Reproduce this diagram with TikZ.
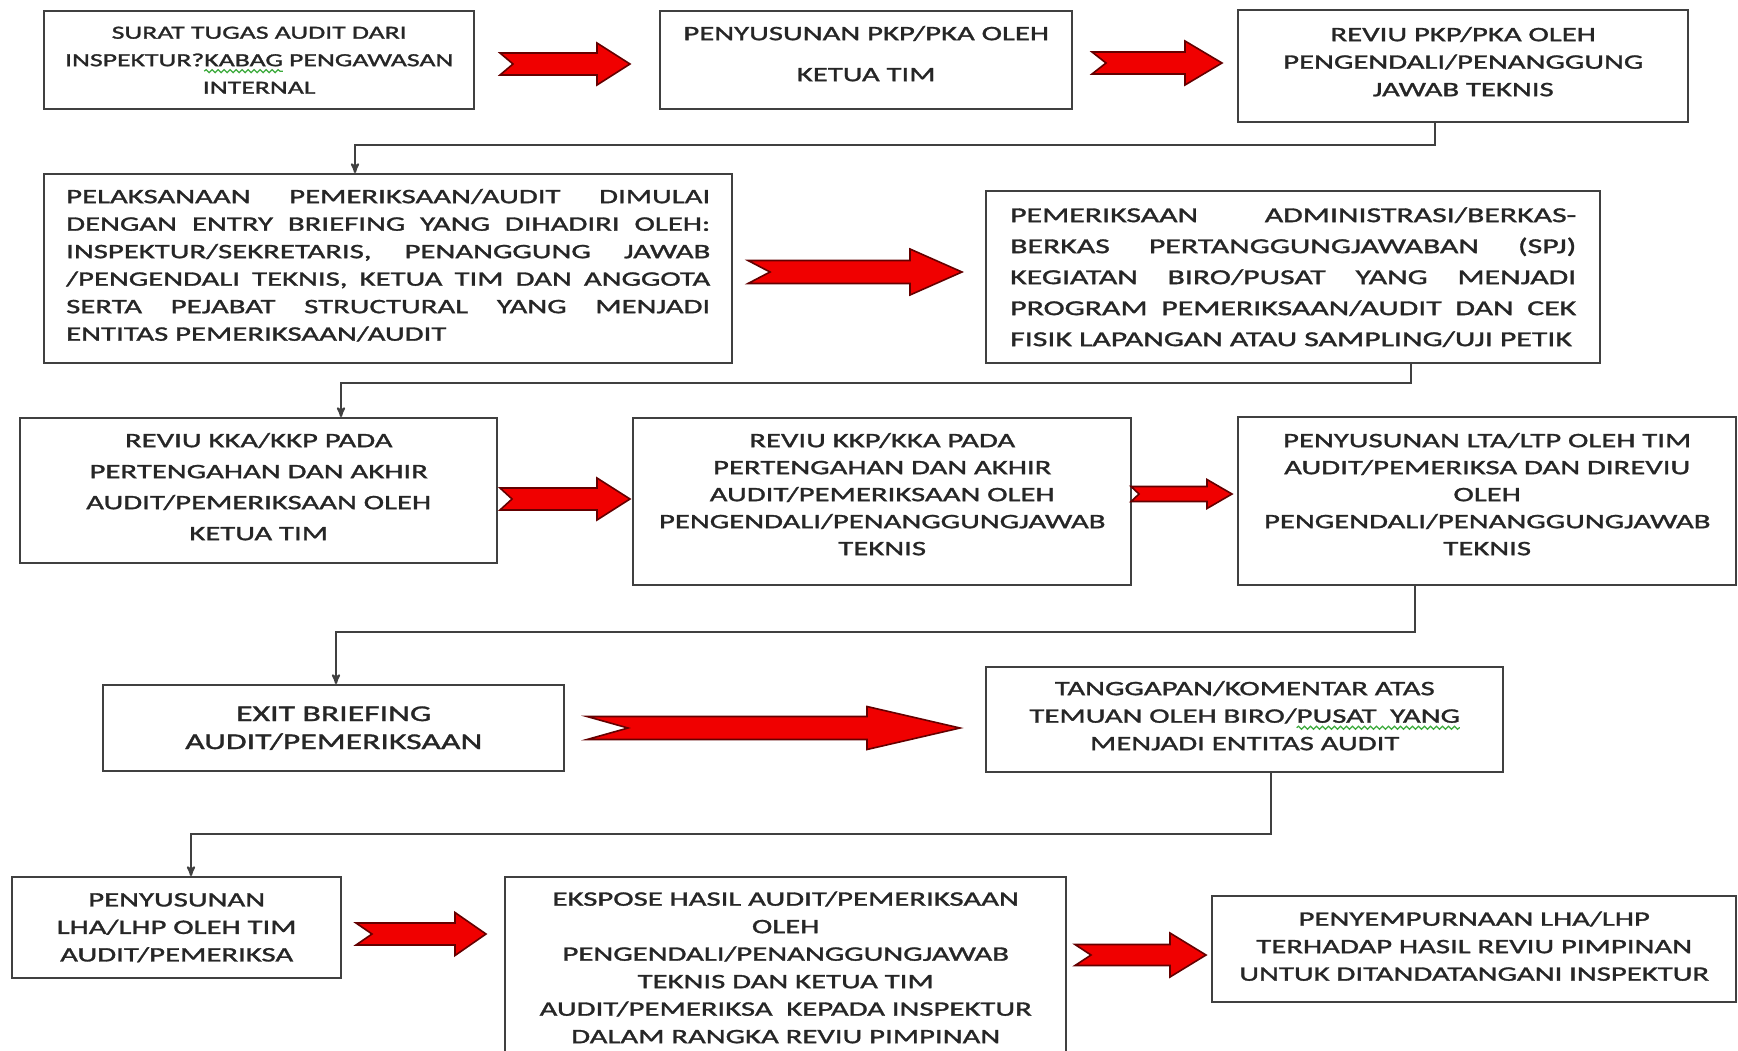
\documentclass[tikz,border=0pt]{standalone}
\usepackage{fontspec}
\setmainfont{Carlito}[FakeStretch=1.5, FakeBold=1.5]
\usepackage{tikz}
\usetikzlibrary{arrows, positioning, calc, decorations.pathmorphing}
\colorlet{colorBox}{black!75}
\colorlet{colorText}{black!85}
\definecolor{colorBlock}{RGB}{240,0,0}
\definecolor{colorBlockEdge}{RGB}{100,0,0}
\definecolor{colorSpell}{RGB}{60,170,60}
\newsavebox{\wavebox}
\newcommand{\spellwave}[1]{\sbox{\wavebox}{#1}\rlap{\usebox{\wavebox}}\tikz[baseline=0pt]{\path[use as bounding box] (0pt,0pt) rectangle (\wd\wavebox,0pt); \draw[colorSpell, line width=1.2pt, decorate, decoration={snake, amplitude=1.5pt, segment length=6pt}] (0pt,-5pt) -- (\wd\wavebox,-5pt);}}
\newcommand{\jline}[2]{{\spaceskip=0pt\xspaceskip=0pt\makebox[#1][s]{#2}}}
\newcommand{\boxfont}[2]{\fontsize{#1}{#2}\selectfont}
% tail, tip, shaft half, head half, head length, notch
\newcommand{\redarrow}[6]{\filldraw[blockarrow] ($(#1)+(0,-#3)$) -- ($(#2)+(-#5,-#3)$) -- ($(#2)+(-#5,-#4)$) -- (#2) -- ($(#2)+(-#5,#4)$) -- ($(#2)+(-#5,#3)$) -- ($(#1)+(0,#3)$) -- ($(#1)+(#6,0)$) -- cycle;}
\tikzset{
  box/.style={draw=colorBox, line width=2.4pt, anchor=north west, inner xsep=0pt, inner ysep=0pt, align=center, text=colorText, font=\boxfont{20.5}{27.5}},
  blockarrow/.style={fill=colorBlock, draw=colorBlockEdge, line width=1.6pt},
  link/.style={draw=colorBox, line width=2.2pt, ->}
}

\begin{document}
\begin{tikzpicture}[>=stealth', x=1pt, y=-1pt]
\clip (0,0) rectangle (1738,1050);
\fill[white] (0,0) rectangle (1738,1050);
% row 1
\node[box, text width=430pt, minimum height=98pt, font=\boxfont{18.5}{27.5}] (s1) at (43,10) {SURAT TUGAS AUDIT DARI\\INSPEKTUR?\spellwave{KABAG} PENGAWASAN\\INTERNAL};
\node[box, text width=412pt, minimum height=98pt, text height=29pt, text depth=69pt] (s2) at (659,10) {PENYUSUNAN PKP/PKA OLEH\\[13.5pt]KETUA TIM};
\node[box, text width=450pt, minimum height=112pt, text height=31pt, text depth=81pt] (s3) at (1237,9) {REVIU PKP/PKA OLEH\\PENGENDALI/PENANGGUNG\\JAWAB TEKNIS};
% row 2
\node[box, text width=644pt, inner xsep=22pt, minimum height=189pt, text height=29pt, text depth=160pt, align=left] (s4) at (43,173) {\jline{644pt}{PELAKSANAAN PEMERIKSAAN/AUDIT DIMULAI}\\\jline{644pt}{DENGAN ENTRY BRIEFING YANG DIHADIRI OLEH:}\\\jline{644pt}{INSPEKTUR/SEKRETARIS, PENANGGUNG JAWAB}\\\jline{644pt}{/PENGENDALI TEKNIS, KETUA TIM DAN ANGGOTA}\\\jline{644pt}{SERTA PEJABAT STRUCTURAL YANG MENJADI}\\ENTITAS PEMERIKSAAN/AUDIT};
\node[box, text width=566pt, inner xsep=24pt, minimum height=172pt, align=left, font=\boxfont{21.2}{31}] (s5) at (985,190) {\jline{566pt}{PEMERIKSAAN ADMINISTRASI/BERKAS-}\\\jline{566pt}{BERKAS PERTANGGUNGJAWABAN (SPJ)}\\\jline{566pt}{KEGIATAN BIRO/PUSAT YANG MENJADI}\\\jline{566pt}{PROGRAM PEMERIKSAAN/AUDIT DAN CEK}\\FISIK LAPANGAN ATAU SAMPLING/UJI PETIK};
% row 3
\node[box, text width=477pt, minimum height=145pt, text height=29pt, text depth=116pt, font=\boxfont{20.5}{31}] (s6) at (19,417) {REVIU KKA/KKP PADA\\PERTENGAHAN DAN AKHIR\\AUDIT/PEMERIKSAAN OLEH\\KETUA TIM};
\node[box, text width=498pt, minimum height=167pt, text height=29pt, text depth=138pt, font=\boxfont{20.5}{27}] (s7) at (632,417) {REVIU KKP/KKA PADA\\PERTENGAHAN DAN AKHIR\\AUDIT/PEMERIKSAAN OLEH\\PENGENDALI/PENANGGUNGJAWAB\\TEKNIS};
\node[box, text width=498pt, minimum height=168pt, text height=30pt, text depth=138pt, font=\boxfont{20.5}{27}] (s8) at (1237,416) {PENYUSUNAN LTA/LTP OLEH TIM\\AUDIT/PEMERIKSA DAN DIREVIU\\OLEH\\PENGENDALI/PENANGGUNGJAWAB\\TEKNIS};
% row 4
\node[box, text width=461pt, minimum height=86pt, font=\boxfont{22.5}{28}] (s9) at (102,684) {EXIT BRIEFING\\AUDIT/PEMERIKSAAN};
\node[box, text width=517pt, minimum height=105pt, text height=28pt, text depth=77pt] (s10) at (985,666) {TANGGAPAN/KOMENTAR ATAS\\TEMUAN OLEH BIRO/\spellwave{PUSAT\ \ YANG}\\MENJADI ENTITAS AUDIT};
% row 5
\node[box, text width=329pt, minimum height=101pt] (s11) at (11,876) {PENYUSUNAN\\LHA/LHP OLEH TIM\\AUDIT/PEMERIKSA};
\node[box, text width=561pt, minimum height=186pt, text height=28.5pt, text depth=157.5pt] (s12) at (504,876) {EKSPOSE HASIL AUDIT/PEMERIKSAAN\\OLEH\\PENGENDALI/PENANGGUNGJAWAB\\TEKNIS DAN KETUA TIM\\AUDIT/PEMERIKSA\ \ KEPADA INSPEKTUR\\DALAM RANGKA REVIU PIMPINAN};
\node[box, text width=524pt, minimum height=106pt, text height=29.5pt, text depth=76.5pt] (s13) at (1211,895) {PENYEMPURNAAN LHA/LHP\\TERHADAP HASIL REVIU PIMPINAN\\UNTUK DITANDATANGANI INSPEKTUR};

% elbow connectors
\coordinate (k1a) at (1435,145); \coordinate (k1b) at (355,145);
\coordinate (k2a) at (1411,383); \coordinate (k2b) at (341,383);
\coordinate (k3a) at (1415,632); \coordinate (k3b) at (336,632);
\coordinate (k4a) at (1271,834); \coordinate (k4b) at (191,834);
\draw[link] (s3.south -| k1a) -- (k1a) -- (k1b) -- (s4.north -| k1b);
\draw[link] (s5.south -| k2a) -- (k2a) -- (k2b) -- (s6.north -| k2b);
\draw[link] (s8.south -| k3a) -- (k3a) -- (k3b) -- (s9.north -| k3b);
\draw[link] (s10.south -| k4a) -- (k4a) -- (k4b) -- (s11.north -| k4b);

% red block arrows
\coordinate (a1t) at (500,64);   \coordinate (a1h) at (630,64);
\coordinate (a2t) at (1092,63);  \coordinate (a2h) at (1222,63);
\coordinate (a3t) at (748,272);  \coordinate (a3h) at (962,272);
\coordinate (a4t) at (500,499);  \coordinate (a4h) at (630,499);
\coordinate (a5t) at (1131,494); \coordinate (a5h) at (1232,494);
\coordinate (a6t) at (587,728);  \coordinate (a6h) at (960,728);
\coordinate (a7t) at (356,934);  \coordinate (a7h) at (486,934);
\coordinate (a8t) at (1075,955); \coordinate (a8h) at (1206,955);
\redarrow{a1t}{a1h}{11}{21}{33}{13}
\redarrow{a2t}{a2h}{11}{22}{37}{14}
\redarrow{a3t}{a3h}{11.5}{23}{52}{22}
\redarrow{a4t}{a4h}{11}{21}{33}{12}
\redarrow{a5t}{a5h}{7.5}{14.5}{25}{8}
\redarrow{a6t}{a6h}{11.5}{21.5}{93}{41}
\redarrow{a7t}{a7h}{11}{21.5}{31}{16}
\redarrow{a8t}{a8h}{10.5}{22}{36}{16}
\end{tikzpicture}
\end{document}
